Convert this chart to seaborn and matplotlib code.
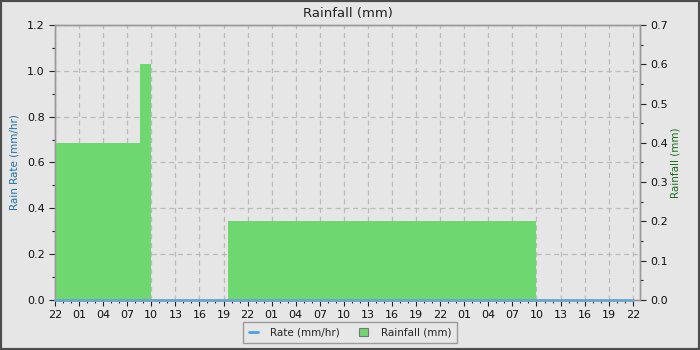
import matplotlib
matplotlib.use("Agg")
import matplotlib.pyplot as plt
import seaborn as sns
import numpy as np
from matplotlib.lines import Line2D
from matplotlib.patches import Patch, Rectangle
from matplotlib.ticker import MultipleLocator

# ---- data (hours since start, 22:00 on day 1) ----
tick_labels = ["22", "01", "04", "07", "10", "13", "16", "19",
               "22", "01", "04", "07", "10", "13", "16", "19",
               "22", "01", "04", "07", "10", "13", "16", "19", "22"]
rain_edges = [0.0, 10.6, 12.0, 21.55, 60.0, 72.0]
rain_values = [0.4, 0.6, 0.0, 0.2, 0.0]
rate_hours = [0.0, 72.0]
rate_values = [0.0, 0.0]

sns.set_theme(style="white")
plt.rcParams["font.family"] = ["DejaVu Sans"]

BG = "#e6e6e6"
fig = plt.figure(figsize=(7, 3.5), dpi=100, facecolor=BG)
ax1 = fig.add_axes([55 / 700, 50 / 350, 585 / 700, 275 / 350])
ax1.set_facecolor(BG)
ax2 = ax1.twinx()

# rainfall as stepped histogram
sns.histplot(x=rain_edges[:-1], weights=rain_values, bins=rain_edges,
             element="step", fill=True, color="#6fd76f", alpha=1.0,
             linewidth=0, ax=ax2, legend=False)
# rate line (left axis scale)
sns.lineplot(x=rate_hours, y=rate_values, color="#6aa6cf", linewidth=2,
             ax=ax2, transform=ax1.transData, legend=False, clip_on=False,
             zorder=5)

ax1.set_xlim(0, 72.9)
ax1.set_ylim(0, 1.2)
ax2.set_ylim(0, 0.7)
ax2.set_xlim(0, 72.9)

ax1.set_xticks(np.arange(len(tick_labels)) * 3)
ax1.set_xticklabels(tick_labels)
ax1.xaxis.set_minor_locator(MultipleLocator(1))
ax1.yaxis.set_major_locator(MultipleLocator(0.2))
ax1.yaxis.set_minor_locator(MultipleLocator(0.1))
ax2.yaxis.set_major_locator(MultipleLocator(0.1))
ax2.yaxis.set_minor_locator(MultipleLocator(0.05))
ax1.yaxis.set_major_formatter(matplotlib.ticker.FormatStrFormatter("%.1f"))
ax2.yaxis.set_major_formatter(matplotlib.ticker.FormatStrFormatter("%.1f"))

for ax in (ax1, ax2):
    ax.tick_params(which="major", direction="out", length=4, width=0.8,
                   color="#222222", labelsize=8, labelcolor="#111111")
    ax.tick_params(which="minor", direction="out", length=2, width=0.8,
                   color="#222222")
    for s in ax.spines.values():
        s.set_color("#999999")
        s.set_linewidth(1)
ax1.tick_params(axis="both", which="both", bottom=True, left=True)
ax2.tick_params(axis="y", which="both", right=True)
ax2.set_xlabel("")
ax2.set_ylabel("")

ax1.grid(True, which="major", axis="both", color="#bbbbbb",
         linestyle=(0, (4, 3)), linewidth=0.9)
ax1.set_axisbelow(True)

ax1.set_ylabel("Rain Rate (mm/hr)", color="#1f6fa5", fontsize=7.5, labelpad=5)
ax2.set_ylabel("Rainfall (mm)", color="#1d6b1d", fontsize=7.5, labelpad=2)
ax1.set_title("Rainfall (mm)", fontsize=9.5, color="#222222", pad=6)

handles = [Line2D([0], [0], color="#4aa3df", linewidth=2),
           Patch(facecolor="#6fd76f", edgecolor="#777777", linewidth=0.8)]
leg = fig.legend(handles, ["Rate (mm/hr)", "Rainfall (mm)"],
                 loc="lower center", bbox_to_anchor=(0.5, 0.006), ncol=2,
                 fontsize=7.5, frameon=True, fancybox=False,
                 handlelength=0.9, handleheight=0.8, columnspacing=1.8,
                 borderpad=0.5, handletextpad=1.2)
leg.get_frame().set_facecolor("#e8e8e8")
leg.get_frame().set_edgecolor("#888888")
leg.get_frame().set_linewidth(1)

fig.patches.append(Rectangle((0, 0), 1, 1, transform=fig.transFigure,
                             fill=False, edgecolor="#4d4d4d", linewidth=3,
                             zorder=10))

fig.savefig("out.png", dpi=100, facecolor=BG)
